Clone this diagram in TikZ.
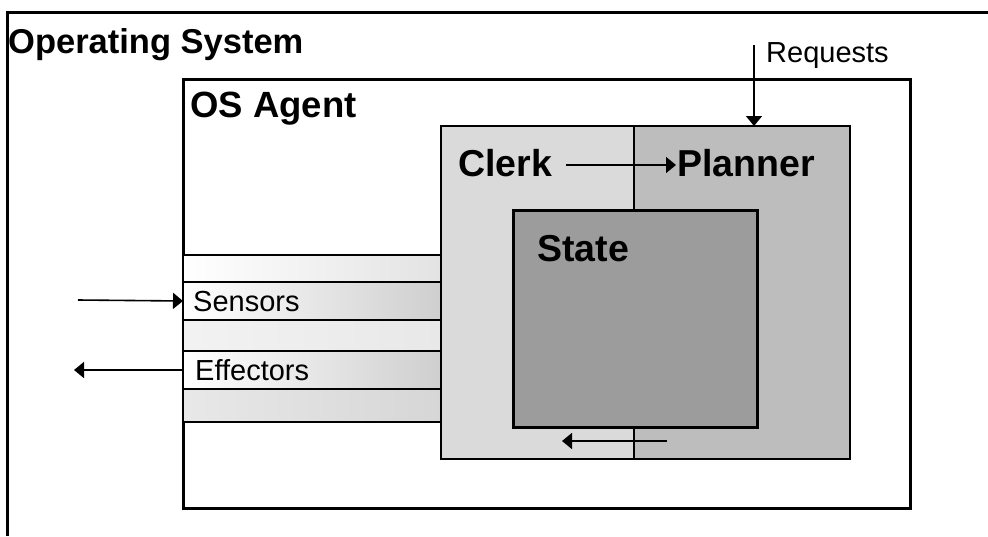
\documentclass[tikz,border=0pt]{standalone}
\usepackage{fontspec}
\setmainfont{Liberation Sans}
\usetikzlibrary{arrows.meta}
\definecolor{clerkgray}{HTML}{DADADA}
\definecolor{plangray}{HTML}{BDBDBD}
\definecolor{stategray}{HTML}{9C9C9C}
\begin{document}
\begin{tikzpicture}[x=1pt,y=-1pt,
  titletext/.style={font=\fontsize{34.5}{40}\selectfont\bfseries, anchor=base west, inner sep=0pt},
  innertext/.style={font=\fontsize{37.5}{42}\selectfont\bfseries, anchor=base west, inner sep=0pt},
  labtext/.style={font=\fontsize{29}{32}\selectfont, anchor=base west, inner sep=0pt},
  arr/.style={line width=1.6pt, -{Triangle[length=10pt,width=16pt]}},
  box/.style={draw=black, anchor=north west, inner sep=0pt, outer sep=0pt},
  stripbox/.style={box, line width=1.6pt, minimum width=258pt},
]
\useasboundingbox (0,0) rectangle (988,536);
% Operating system (open frame)
\coordinate (osTL) at (7,12.5);
\draw[line width=3pt] (988,12.5) -- (osTL) -- (7,536);
\node[titletext] (ostitle) at (8,53) {Operating System};
% OS Agent
\node[box, line width=3pt, minimum width=727pt, minimum height=429pt] (agent) at (183,79) {};
\node[titletext, font=\fontsize{36.5}{42}\selectfont\bfseries] (agenttitle) at (190,117) {OS Agent};
% strips
\node[stripbox, minimum height=27pt, left color=white, right color=gray!22] (s1) at (183,255) {};
\node[stripbox, minimum height=38pt, left color=white, right color=gray!38] (sens) at (183,282) {};
\node[stripbox, minimum height=31pt, left color=gray!10, right color=gray!18] (s3) at (183,320) {};
\node[stripbox, minimum height=38pt, left color=white, right color=gray!38] (eff) at (183,351) {};
\node[stripbox, minimum height=33pt, left color=gray!18, right color=gray!32] (s5) at (183,389) {};
\node[labtext] (senstext) at (193,311) {Sensors};
\node[labtext] (efftext) at (195,380) {Effectors};
% Clerk / Planner box
\node[box, fill=clerkgray, line width=2pt, minimum width=409pt, minimum height=333pt] (cp) at (441,126) {};
\node[box, draw=none, fill=plangray, minimum width=215pt, minimum height=331pt] (plan) at (634.5,127) {};
\draw[line width=2pt] (cp.north west) rectangle (cp.south east);
\coordinate (divtop) at (634,126);
\coordinate (divbot) at (634,459);
% State
\node[box, fill=stategray, line width=3pt, minimum width=244pt, minimum height=217pt] (state) at (513,210) {};
\draw[line width=1.6pt] (divtop) -- (divtop |- state.north);
\draw[line width=1.6pt] (divbot |- state.south) -- (divbot);
\node[innertext] (clerk) at (458,176) {Clerk};
\node[innertext] (planner) at (677,176) {Planner};
\node[innertext] (statetext) at (537,261) {State};
\node[labtext] (req) at (766,62) {Requests};
% arrows
\coordinate (reqtop) at (754,45);
\draw[arr] (reqtop) -- (reqtop |- cp.north);
\coordinate (c2p) at (566,165);
\coordinate (c2pe) at (676,165);
\draw[arr] (c2p) -- (c2pe);
\coordinate (sensin) at (78,300);
\draw[arr] (sensin) -- (sens.west);
\coordinate (effout) at (74,370);
\draw[arr] (eff.west) -- (effout);
\coordinate (backs) at (667,441);
\coordinate (backe) at (562,441);
\draw[arr] (backs) -- (backe);
\end{tikzpicture}
\end{document}
